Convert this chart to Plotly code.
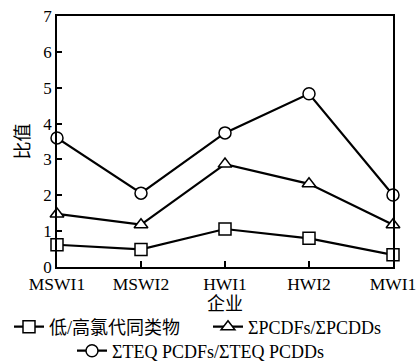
import plotly.graph_objects as go

# Enterprises on the x axis
enterprises = ["MSWI1", "MSWI2", "HWI1", "HWI2", "MWI1"]

# Ratio series
low_high_ratio = [0.62, 0.49, 1.06, 0.80, 0.34]
pcdf_pcdd_ratio = [1.48, 1.18, 2.87, 2.32, 1.18]
teq_ratio = [3.60, 2.06, 3.74, 4.83, 2.01]

series_names = ["低/高氯代同类物", "ΣPCDFs/ΣPCDDs", "ΣTEQ PCDFs/ΣTEQ PCDDs"]
y_ticks = [0, 1, 2, 3, 4, 5, 6, 7]

W, H = 418, 362
M_L, M_R, M_T, M_B = 57, 25, 16, 95
PLOT_H = H - M_T - M_B
serif = "Liberation Serif, Times New Roman, Noto Sans CJK SC, serif"
cjk = "Noto Sans CJK SC"

fig = go.Figure()

def add_series(y, name, symbol, size, legend):
    fig.add_trace(go.Scatter(
        x=enterprises, y=y, name=name, mode="lines+markers",
        line=dict(color="black", width=2.2),
        marker=dict(symbol=symbol, size=size, color="white",
                    line=dict(color="black", width=1.5)),
        legend=legend, cliponaxis=False,
    ))

add_series(low_high_ratio, series_names[0], "square", 12, "legend")
add_series(pcdf_pcdd_ratio, series_names[1], "triangle-up", 12, "legend2")
add_series(teq_ratio, series_names[2], "circle", 12, "legend3")

def legend_at(left_px, center_px):
    return dict(
        orientation="h", xref="container", yref="container",
        x=left_px / W, y=(H - center_px) / H,
        xanchor="left", yanchor="middle",
        font=dict(family=serif, size=18, color="black"),
        bgcolor="rgba(0,0,0,0)", borderwidth=0, itemwidth=30,
    )

fig.update_layout(
    width=W, height=H,
    margin=dict(l=M_L, r=M_R, t=M_T, b=M_B, autoexpand=False),
    paper_bgcolor="white", plot_bgcolor="white",
    font=dict(family=serif, size=18, color="black"),
    showlegend=True,
    legend=legend_at(9, 327),
    legend2=legend_at(208, 327),
    legend3=legend_at(72, 351),
    xaxis=dict(
        type="category", range=[0, 4],
        showline=True, linecolor="black", linewidth=1.5, mirror=True,
        ticks="inside", ticklen=6, tickcolor="black", tickwidth=1.5,
        showgrid=False, zeroline=False,
        tickfont=dict(family=serif, size=17.5),
    ),
    yaxis=dict(
        range=[0, 7], tickvals=y_ticks,
        showline=True, linecolor="black", linewidth=1.5, mirror=True,
        ticks="inside", ticklen=5, tickcolor="black", tickwidth=1.5,
        showgrid=False, zeroline=False,
        tickfont=dict(family=serif, size=17),
        title=dict(text="比值", font=dict(family=cjk, size=18), standoff=9),
    ),
    annotations=[dict(
        text="企业", xref="paper", yref="paper",
        x=0.5, y=-(302 - (H - M_B)) / PLOT_H, xanchor="center", yanchor="middle",
        showarrow=False, font=dict(family=cjk, size=18, color="black"),
    )],
)

fig.write_html("out.html")
